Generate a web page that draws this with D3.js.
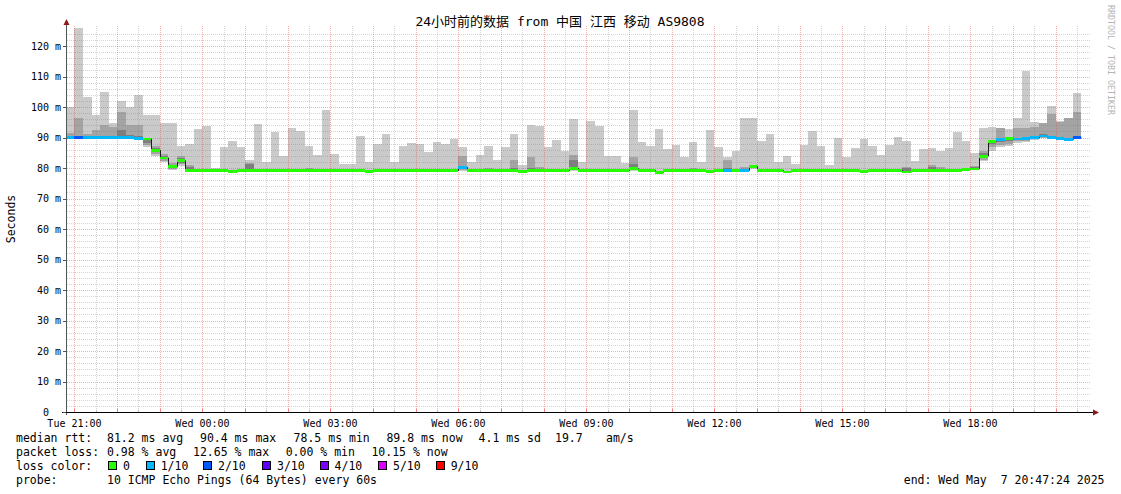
<!DOCTYPE html>
<html><head><meta charset="utf-8">
<script src="https://cdn.jsdelivr.net/npm/d3@7"></script>
<style>
html,body{margin:0;padding:0;background:#fff;}
svg{display:block;font-family:"DejaVu Sans Mono","Noto Sans CJK SC",monospace;}
text{white-space:pre;}
</style></head><body>
<svg id="c" width="1121" height="494"></svg>
<script>
// ---------------- DATA ----------------
const title = "24小时前的数据 from 中国 江西 移动 AS9808";
const viewStartStr = "2025-05-06T20:49:30";
const viewEndStr   = "2025-05-07T20:49:30";
const firstBarStr  = "2025-05-06T20:48:00";
const stepMinutes  = 12;
const yLabel = "Seconds";
const watermark = "RRDTOOL / TOBI OETIKER";

// loss level index per bar (0 = 0, 1 = 1/10, 2 = 2/10)
const lossLevel = [
1,2,1,1,1,1,1,1,1,0, 0,0,0,0,0,0,0,0,0,0, 0,0,0,0,0,0,0,0,0,0, 0,0,0,0,0,0,0,0,0,0,
0,0,0,0,0,0,1,0,0,0, 0,0,0,0,0,0,0,0,0,0, 0,0,0,0,0,0,0,0,0,0, 0,0,0,0,0,0,0,1,0,1,
0,0,0,0,0,0,0,0,0,0, 0,0,0,0,0,0,0,0,0,0, 0,0,0,0,0,0,0,0,0,1, 0,1,1,1,1,1,1,1,2];

const median = [
89.9,89.9,89.9,89.9,89.9,89.9,89.9,89.9,89.7,89.5,
85.8,83.3,80.4,82.4,79.2,79.2,79.2,79.2,79.2,78.9,
79.2,79.2,79.2,79.2,79.2,79.2,79.2,79.2,79.2,79.2,
79.2,79.2,79.2,79.2,79.2,78.9,79.2,79.2,79.2,79.2,
79.2,79.2,79.2,79.2,79.2,79.2,80.2,79.2,79.2,79.2,
79.2,79.2,79.2,78.8,79.2,79.2,79.2,79.2,79.2,79.9,
79.2,79.2,79.2,79.2,79.2,79.2,79.8,79.2,79.2,78.6,
79.2,79.2,79.2,79.2,79.2,78.8,79.2,79.2,79.2,79.2,
80.5,79.2,79.2,79.2,78.7,79.2,79.2,79.2,79.2,79.2,
79.2,79.2,79.2,78.9,79.2,79.2,79.2,79.2,78.7,79.2,
79.2,79.2,79.2,79.2,79.2,79.5,79.7,83.9,88.8,89.3,
89.6,89.5,89.8,89.9,90.5,89.9,89.6,89.4,89.9];

// smoke: sorted ping ranks (p1 = fastest ... p10 = slowest)
const p10 = [
100,126,103.3,97.3,105,94.8,102,100,104,97.5,
97.5,94.8,94.8,87.3,88,92.9,93.9,79.9,87,89,
87,82.7,94.4,82,91.9,84,93.2,92.2,87.3,84.4,
98.9,84.7,81.3,81.3,90.6,81.9,87.8,91.3,82.1,87.3,
88.3,88,85.4,88.6,87.8,89.6,87,82.1,84.4,87.3,
82.7,87,91.3,81.1,94.2,93.9,87,89.3,85.7,96,
82.1,95.5,93.9,84,84,81.7,99.1,88.6,87.3,92.9,
86.3,87.7,83.7,88.6,82.1,92.6,87,83.7,85.7,96.4,
96.4,89,91.3,82.1,84,81.4,87.7,92.2,87.3,81.1,
89.9,83.7,86.7,89.6,87.3,84.4,87.7,90.3,89,82.4,
86.3,86.7,85.7,86.7,91.9,89,85,93.2,93.5,93,
92.9,96.3,111.9,95.2,94.7,100.3,95.5,96.4,104.7];

const p9 = [
91.5,96.4,91.1,92.6,94,93.3,98.5,94,94.2,90.0,
87.2,84.6,81.5,83.8,80.9,79.6,79.6,79.6,79.6,79.3,
79.6,81.5,79.6,79.6,79.6,79.6,79.6,79.6,80.0,79.6,
79.6,79.6,79.6,79.6,79.6,79.3,79.6,79.6,79.6,79.6,
79.6,79.6,79.6,79.6,79.6,79.6,84.0,79.6,79.6,80.0,
79.6,79.6,82.7,79.2,83.5,80.3,79.6,79.6,79.6,84.4,
79.6,79.6,79.6,79.6,79.6,79.6,83.5,79.6,79.6,79.0,
79.6,79.6,79.6,80.1,79.6,79.2,79.6,82.7,79.6,80.2,
80.8,79.6,79.6,79.6,79.1,79.6,79.6,79.6,79.6,79.6,
79.6,79.6,79.6,79.3,79.6,79.6,79.6,79.6,80.2,79.6,
79.6,80.9,80.2,79.6,79.6,79.9,80.5,85.5,89.2,93.0,
90.2,93.0,93.2,93.5,94.6,97.7,95.2,96.3,98.3];

const p8 = [
90.3,90.6,90.5,90.4,90.5,90.4,92.6,90.7,90.5,89.8,
86.5,84.0,80.9,83.2,80.2,79.4,79.4,79.4,79.4,79.1,
79.4,81.3,79.4,79.4,79.4,79.4,79.4,79.4,79.8,79.4,
79.4,79.4,79.4,79.4,79.4,79.1,79.4,79.4,79.4,79.4,
79.4,79.4,79.4,79.4,79.4,79.4,80.5,79.4,79.4,79.6,
79.4,79.4,80.0,79.0,80.0,79.6,79.4,79.4,79.4,82.7,
79.4,79.4,79.4,79.4,79.4,79.4,81.4,79.4,79.4,78.8,
79.4,79.4,79.4,79.6,79.4,79.0,79.4,80.0,79.4,79.5,
80.7,79.4,79.4,79.4,78.9,79.4,79.4,79.4,79.4,79.4,
79.4,79.4,79.4,79.1,79.4,79.4,79.4,79.4,79.9,79.4,
79.4,80.2,79.6,79.4,79.4,79.7,80.2,84.8,89.0,90.0,
90.0,90.0,90.3,90.4,91.0,90.5,90.2,90.0,90.5];

const p3 = [
89.7,89.7,89.7,89.7,89.7,89.7,89.7,89.7,89.5,88.3,
85.2,82.9,80.1,81.8,79.1,79.1,79.1,79.0,79.1,78.8,
79.1,79.1,79.1,79.1,79.1,79.1,79.1,79.1,79.1,79.1,
79.1,79.1,79.1,79.1,78.9,78.8,79.1,79.1,78.9,79.1,
79.1,79.1,79.1,79.1,79.1,79.1,79.6,79.1,79.1,79.1,
79.1,79.1,78.9,78.7,79.1,79.1,79.1,79.1,79.1,79.6,
79.1,79.1,79.1,79.1,79.1,79.1,79.6,79.1,79.1,78.5,
79.1,79.1,79.1,79.1,79.1,78.7,79.1,79.1,79.1,79.1,
80.2,79.1,79.1,79.1,78.6,79.1,79.1,79.1,79.1,79.1,
78.9,79.1,79.1,78.8,79.1,79.1,79.1,79.1,78.6,79.1,
79.1,79.1,79.1,79.1,79.1,79.4,79.6,83.3,87.8,88.5,
88.8,89.1,89.3,89.6,90.2,89.7,89.4,89.2,89.7];

const p2 = [
89.6,89.6,89.6,89.6,89.6,89.6,89.6,89.6,89.4,87.5,
84.6,82.4,79.8,81.2,79.0,79.0,79.0,78.8,79.0,78.7,
79.0,79.0,79.0,79.0,79.0,79.0,79.0,79.0,79.0,79.0,
79.0,79.0,79.0,79.0,78.7,78.7,79.0,79.0,78.7,79.0,
79.0,79.0,79.0,79.0,79.0,79.0,79.3,79.0,79.0,79.0,
79.0,79.0,78.7,78.6,79.0,79.0,79.0,79.0,79.0,79.4,
79.0,79.0,79.0,79.0,79.0,79.0,79.4,79.0,79.0,78.4,
79.0,79.0,79.0,79.0,79.0,78.6,79.0,79.0,79.0,79.0,
80.0,79.0,79.0,79.0,78.5,79.0,79.0,79.0,79.0,79.0,
78.7,79.0,79.0,78.7,79.0,79.0,79.0,79.0,78.5,79.0,
79.0,79.0,79.0,79.0,79.0,79.3,79.5,82.7,86.8,87.7,
88.0,88.7,89.0,89.4,90.0,89.5,89.3,89.1,89.6];

const p1 = [
89.5,89.5,89.5,89.5,89.5,89.5,89.5,89.5,89.3,86.8,
83.8,81.9,79.5,80.5,78.9,78.9,78.9,78.6,78.9,78.6,
78.9,78.9,78.9,78.9,78.9,78.9,78.9,78.9,78.9,78.9,
78.9,78.9,78.9,78.9,78.6,78.6,78.9,78.9,78.6,78.9,
78.9,78.9,78.9,78.9,78.9,78.9,79.0,78.9,78.9,78.9,
78.9,78.9,78.6,78.5,78.9,78.9,78.9,78.9,78.9,79.1,
78.9,78.9,78.9,78.9,78.9,78.9,79.1,78.9,78.9,78.3,
78.9,78.9,78.9,78.9,78.9,78.5,78.9,78.9,78.9,78.9,
79.8,78.9,78.9,78.9,78.4,78.9,78.9,78.9,78.9,78.9,
78.6,78.9,78.9,78.6,78.9,78.9,78.9,78.9,78.4,78.9,
78.9,78.9,78.9,78.9,78.9,79.1,79.3,82.2,85.5,87.0,
87.2,88.3,88.6,89.2,89.8,89.4,89.2,89.0,89.5];

const lossLabels = ["0","1/10","2/10","3/10","4/10","5/10","9/10"];
const lossColors = ["#26ff00","#00b8ff","#0059ff","#5e00ff","#7e00ff","#dd00ff","#ff0000"];
const smokeColors = ["#cacaca","#a4a4a4","#7e7e7e"];

const legendRtt = [["median rtt:",16],["81.2 ms avg",107],["90.4 ms max",200],["78.5 ms min",293.6],["89.8 ms now",386.4],["4.1 ms sd",478.6],["19.7",555],["am/s",606]];
const legendLoss = [["packet loss:",16],["0.98 % avg",107],["12.65 % max",193],["0.00 % min",285.7],["10.15 % now",371.4]];
const legendProbe = [["probe:",16],["10 ICMP Echo Pings (64 Bytes) every 60s",107]];
const endText = "end: Wed May  7 20:47:24 2025";
const lossBoxX = [108,145.7,203,262,319.6,378,435.7];

// ---------------- SCALES ----------------
const parse = d3.timeParse("%Y-%m-%dT%H:%M:%S");
const viewStart = parse(viewStartStr), viewEnd = parse(viewEndStr);
const firstBar = parse(firstBarStr);
const L = 67, R = 1091, B = 412, T = 26.2;
const x = d3.scaleTime().domain([viewStart, viewEnd]).range([L, R]);
const y = d3.scaleLinear().domain([0, 126.5]).range([B, T]);

const bars = median.map((m, i) => {
  const t0 = d3.timeMinute.offset(firstBar, i * stepMinutes);
  const t1 = d3.timeMinute.offset(firstBar, (i + 1) * stepMinutes);
  return {i, t0, t1, med: m, loss: lossLevel[i],
    bands: [[p1[i], p10[i]], [p2[i], p9[i]], [p3[i], p8[i]]]};
});

const svg = d3.select("#c");
svg.append("rect").attr("width", 1121).attr("height", 494).attr("fill", "#fff");
svg.append("defs").append("clipPath").attr("id", "plot")
  .append("rect").attr("x", L).attr("y", T).attr("width", R - L).attr("height", B - T);

const plot = svg.append("g").attr("clip-path", "url(#plot)").attr("shape-rendering", "crispEdges");

// smoke
smokeColors.forEach((c, k) => {
  plot.append("g").selectAll("rect").data(bars).join("rect")
    .attr("x", d => x(d.t0)).attr("width", d => x(d.t1) - x(d.t0))
    .attr("y", d => y(d.bands[k][1]))
    .attr("height", d => Math.max(0, y(d.bands[k][0]) - y(d.bands[k][1])))
    .attr("fill", c);
});

// grid (semi-transparent, drawn over the smoke)
const minorC = "rgba(120,120,120,0.32)", majorC = "rgba(240,60,60,0.42)";
const gridG = svg.append("g").attr("shape-rendering", "crispEdges");
const yMinor = d3.range(2, 125, 2);
gridG.selectAll("line.hy").data(yMinor).join("line")
  .attr("x1", L).attr("x2", R)
  .attr("y1", d => Math.round(y(d)) + 0.5).attr("y2", d => Math.round(y(d)) + 0.5)
  .attr("stroke", d => d % 10 === 0 ? majorC : minorC)
  .attr("stroke-dasharray", "1,1");
const xMinor = d3.timeMinute.every(30).range(viewStart, viewEnd);
gridG.selectAll("line.vx").data(xMinor).join("line")
  .attr("x1", d => Math.round(x(d)) + 0.5).attr("x2", d => Math.round(x(d)) + 0.5)
  .attr("y1", T).attr("y2", B)
  .attr("stroke", d => d.getMinutes() === 0 ? majorC : minorC)
  .attr("stroke-dasharray", "1,1");

// median line (dark) and loss coloured band
const medPts = [];
bars.forEach(d => { medPts.push([d.t0, d.med]); medPts.push([d.t1, d.med]); });
const medG = svg.append("g").attr("clip-path", "url(#plot)");
medG.append("path").datum(medPts)
  .attr("d", d3.line().x(p => Math.round(x(p[0])) + 0.5).y(p => y(p[1])))
  .attr("fill", "none").attr("stroke", "#202020").attr("stroke-width", 1);
medG.selectAll("rect").data(bars).join("rect")
  .attr("shape-rendering", "crispEdges")
  .attr("x", d => x(d.t0)).attr("width", d => x(d.t1) - x(d.t0))
  .attr("y", d => y(d.med) - 1.4).attr("height", 2.8)
  .attr("fill", d => lossColors[d.loss]);

// axes
const axG = svg.append("g");
axG.append("line").attr("x1", 66.5).attr("x2", 66.5).attr("y1", 415).attr("y2", 22)
  .attr("stroke", "#555").attr("shape-rendering", "crispEdges");
axG.append("line").attr("x1", 62).attr("x2", 1094).attr("y1", 412.5).attr("y2", 412.5)
  .attr("stroke", "#000").attr("shape-rendering", "crispEdges");
axG.append("path").attr("d", "M66.5,19 L63.5,25 L69.5,25 Z").attr("fill", "#8b1a1a");
axG.append("path").attr("d", "M1099,412.5 L1093,409.5 L1093,415.5 Z").attr("fill", "#8b1a1a");

// y ticks and labels
const yMajor = d3.range(0, 121, 10);
axG.selectAll("line.yt").data(yMajor).join("line")
  .attr("x1", 63).attr("x2", 66).attr("y1", d => Math.round(y(d)) + 0.5).attr("y2", d => Math.round(y(d)) + 0.5)
  .attr("stroke", "#555").attr("shape-rendering", "crispEdges");
axG.selectAll("text.yl").data(yMajor).join("text")
  .attr("x", d => d === 0 ? 49 : 61).attr("y", d => y(d) + 3.6)
  .attr("text-anchor", "end").attr("font-size", 10).attr("fill", "#000")
  .text(d => d === 0 ? "0" : d + " m");

// x ticks and labels
axG.selectAll("line.xt").data(xMinor).join("line")
  .attr("x1", d => Math.round(x(d)) + 0.5).attr("x2", d => Math.round(x(d)) + 0.5)
  .attr("y1", d => d.getMinutes() === 0 ? 409 : 410).attr("y2", 412)
  .attr("stroke", d => d.getMinutes() === 0 ? "#f08080" : "#bbb").attr("shape-rendering", "crispEdges");
const xLab = xMinor.filter(d => d.getMinutes() === 0 && d.getHours() % 3 === 0);
const fmt = d3.timeFormat("%a %H:%M");
axG.selectAll("text.xl").data(xLab).join("text")
  .attr("x", d => x(d)).attr("y", 426.5).attr("text-anchor", "middle")
  .attr("font-size", 10).attr("fill", "#000").text(d => fmt(d));

// title
svg.append("text").attr("x", 560).attr("y", 25.5).attr("text-anchor", "middle")
  .attr("font-size", 13).attr("fill", "#000").text(title);

// y label
svg.append("text").attr("transform", "translate(15,219) rotate(-90)").attr("text-anchor", "middle")
  .attr("font-size", 11.5).attr("fill", "#000").text(yLabel);

// watermark
svg.append("text").attr("transform", "translate(1108,5) rotate(90)")
  .attr("font-size", 8.3).attr("fill", "#b4b4b4").text(watermark);

// legend
const fs = 11.5;
const lg = svg.append("g").attr("font-size", fs).attr("fill", "#000");
const row = (items, yy) => items.forEach(([t, xx]) => lg.append("text").attr("x", xx).attr("y", yy).text(t));
row(legendRtt, 442);
row(legendLoss, 456);
row([["loss color:", 16]], 470);
row(legendProbe, 484);
lg.append("text").attr("x", 1104.5).attr("y", 484).attr("text-anchor", "end").text(endText);
lossLabels.forEach((lab, k) => {
  lg.append("rect").attr("x", lossBoxX[k] + 0.5).attr("y", 461.5).attr("width", 8).attr("height", 8)
    .attr("fill", lossColors[k]).attr("stroke", "#000").attr("shape-rendering", "crispEdges");
  lg.append("text").attr("x", lossBoxX[k] + 15).attr("y", 470).text(lab);
});
</script>
</body></html>
